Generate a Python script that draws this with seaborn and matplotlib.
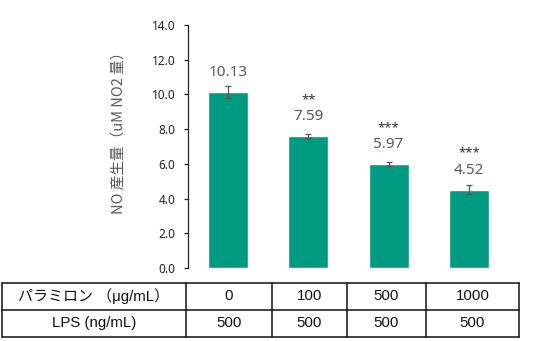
import matplotlib
matplotlib.use("Agg")
import matplotlib.pyplot as plt
import seaborn as sns
import pandas as pd

# Data
doses = ["0", "100", "500", "1000"]
no_values = [10.13, 7.59, 5.97, 4.52]
no_errors = [0.33, 0.12, 0.12, 0.25]
significance = ["", "**", "***", "***"]
yticks = [0.0, 2.0, 4.0, 6.0, 8.0, 10.0, 12.0, 14.0]
row_labels = ["パラミロン （μg/mL）", "LPS (ng/mL)"]
lps_values = ["500", "500", "500", "500"]

sns.set_theme(style="white")
plt.rcParams["font.family"] = ["Liberation Sans", "Noto Sans CJK JP", "DejaVu Sans"]

W, H, DPI = 536, 341, 100
fig = plt.figure(figsize=(W / DPI, H / DPI), dpi=DPI)

bar_color = "#009A80"
label_gray = "#595959"

# Bar chart
ax = fig.add_axes([188 / W, 1 - 268 / H, (509 - 188) / W, (268 - 25) / H])
df = pd.DataFrame({"dose": doses, "no": no_values})
sns.barplot(data=df, x="dose", y="no", color=bar_color, width=0.5,
            errorbar=None, saturation=1, ax=ax)
ax.errorbar(range(len(doses)), no_values, yerr=no_errors, fmt="none",
            ecolor="#555555", elinewidth=0.9, capsize=2.5, capthick=0.9)

ax.set_xlim(-0.5, 3.5)
ax.set_ylim(0, 14)
ax.set_yticks(yticks)
ax.set_yticklabels([f"{t:.1f}" for t in yticks],
                   fontdict={"family": ["Noto Sans", "DejaVu Sans"]})
ax.tick_params(axis="y", labelsize=8.5, length=3, width=0.9, color="#222222",
               direction="out", pad=6, left=True, labelcolor="#222222")
ax.tick_params(axis="x", bottom=False, labelbottom=False)
ax.set_xlabel("")
ax.set_ylabel("NO 産生量（uM NO2 量）", fontsize=10.5, color=label_gray,
              family=["Noto Sans CJK JP", "DejaVu Sans"])
ax.yaxis.set_label_coords(-0.195, 0.57)
for side in ["top", "right", "bottom"]:
    ax.spines[side].set_visible(False)
ax.spines["left"].set_color("#222222")
ax.spines["left"].set_linewidth(0.9)

for i, (v, s) in enumerate(zip(no_values, significance)):
    ax.annotate(f"{v:.2f}", (i, v), xytext=(0, 14), textcoords="offset points",
                ha="center", va="center", fontsize=11, color=label_gray,
                family=["Noto Sans", "DejaVu Sans"])
    if s:
        ax.annotate(s, (i, v), xytext=(0, 26.5), textcoords="offset points",
                    ha="center", va="center", fontsize=9.5, color="#333333",
                    family=["Noto Sans", "DejaVu Sans"])

# Condition table under the bars
tax = fig.add_axes([0, 0, 1, 1], facecolor="none")
tax.set_xlim(0, W)
tax.set_ylim(H, 0)
tax.axis("off")
col_edges = [2, 186, 272, 347, 426, 519]
row_edges = [282.5, 309.5, 336.5]
for x in col_edges:
    tax.plot([x, x], [row_edges[0], row_edges[-1]], color="#111111", lw=1.1)
for y in row_edges:
    tax.plot([col_edges[0], col_edges[-1]], [y, y], color="#111111", lw=1.1)

rows = [[row_labels[0]] + doses, [row_labels[1]] + lps_values]
for r, cells in enumerate(rows):
    yc = (row_edges[r] + row_edges[r + 1]) / 2
    for c, txt in enumerate(cells):
        xc = (col_edges[c] + col_edges[c + 1]) / 2
        tax.text(xc, yc, txt, ha="center", va="center", fontsize=10.8,
                 color="#111111",
                 family=["Liberation Sans", "Noto Sans CJK JP", "DejaVu Sans"])

fig.savefig("out.png", dpi=DPI)
